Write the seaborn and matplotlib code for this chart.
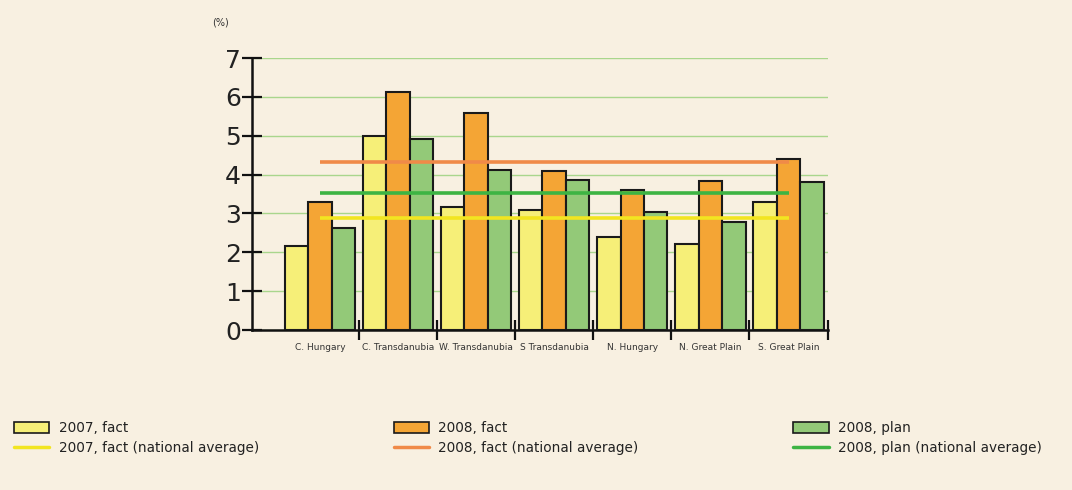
import matplotlib
matplotlib.use("Agg")
import matplotlib.pyplot as plt
from matplotlib.patches import Patch
from matplotlib.lines import Line2D
from matplotlib import font_manager
import numpy as np
import pandas as pd
import seaborn as sns

regions = ["C. Hungary", "C. Transdanubia", "W. Transdanubia", "S Transdanubia",
           "N. Hungary", "N. Great Plain", "S. Great Plain"]
fact_2007 = [2.16, 4.99, 3.17, 3.08, 2.39, 2.21, 3.30]
fact_2008 = [3.30, 6.12, 5.59, 4.10, 3.60, 3.83, 4.41]
plan_2008 = [2.63, 4.91, 4.11, 3.85, 3.05, 2.79, 3.80]
series_names = ["2007, fact", "2008, fact", "2008, plan"]
avg_names = ["2007, fact (national average)", "2008, fact (national average)",
             "2008, plan (national average)"]
national_avg = [2.88, 4.32, 3.52]
yticks = [0, 1, 2, 3, 4, 5, 6, 7]

bar_colors = ["#f6ef78", "#f4a535", "#93c978"]
line_colors = ["#f2e520", "#f08a48", "#3db443"]
bg = "#f8f0e1"

df = pd.DataFrame({
    "region": regions * 3,
    "value": fact_2007 + fact_2008 + plan_2008,
    "series": [s for s in series_names for _ in regions],
})

sns.set_theme(style="white")
plt.rcParams["font.family"] = ["DejaVu Sans"]

available = {f.name for f in font_manager.fontManager.ttflist}
narrow = "Liberation Sans Narrow" if "Liberation Sans Narrow" in available else "DejaVu Sans"
narrow_size = 11 if narrow != "DejaVu Sans" else 9.8

fig = plt.figure(figsize=(10.72, 4.90), dpi=100, facecolor=bg)
ax = fig.add_axes([0.235, 0.3265, 0.537, 0.555])
ax.set_facecolor(bg)

sns.barplot(data=df, x="region", y="value", hue="series", hue_order=series_names,
            palette=bar_colors, edgecolor="#1a1a1a", linewidth=1.5, width=0.9,
            saturation=1, legend=False, ax=ax, zorder=3)

n = len(regions)
for val, col in zip(national_avg, line_colors):
    ax.hlines(val, 0, n - 1, colors=col, linewidth=2.6, zorder=5)

ax.set_ylim(0, 7)
ax.set_xlim(-0.87, n - 0.5)
ax.set_yticks(yticks)
ax.set_yticklabels([str(t) for t in yticks], fontsize=18, color="#222222")
ax.yaxis.grid(True, color="#a9d68c", linewidth=1.0, zorder=0)
ax.set_axisbelow(True)

ax.set_xticks(np.arange(n))
ax.set_xticklabels(regions, fontsize=6.5, color="#333333", family=[narrow, "DejaVu Sans"])
ax.tick_params(axis="x", which="major", length=0, pad=9, bottom=True)
ax.set_xticks(np.arange(n) + 0.5, minor=True)
ax.tick_params(axis="x", which="minor", length=14, width=1.6, direction="inout",
               color="#111111", bottom=True)
ax.tick_params(axis="y", length=14, width=1.6, direction="inout", color="#111111",
               pad=1, left=True)

for s in ["top", "right"]:
    ax.spines[s].set_visible(False)
for s in ["left", "bottom"]:
    ax.spines[s].set_color("#111111")
    ax.spines[s].set_linewidth(1.8)
ax.set_xlabel("")
ax.set_ylabel("")

fig.text(0.198, 0.955, "(%)", fontsize=7, color="#333333", va="center")

positions = [0.008, 0.362, 0.735]
for i in range(3):
    handles = [Patch(facecolor=bar_colors[i], edgecolor="#1a1a1a", linewidth=1.2),
               Line2D([0], [0], color=line_colors[i], linewidth=2.5)]
    fig.legend(handles, [series_names[i], avg_names[i]], loc="upper left",
               bbox_to_anchor=(positions[i], 0.152), frameon=False,
               prop={"family": [narrow, "DejaVu Sans"], "size": narrow_size},
               handlelength=2.6, handleheight=0.9, labelspacing=0.45,
               handletextpad=0.7, borderaxespad=0, labelcolor="#222222")

fig.savefig("out.png", dpi=100, facecolor=bg)
